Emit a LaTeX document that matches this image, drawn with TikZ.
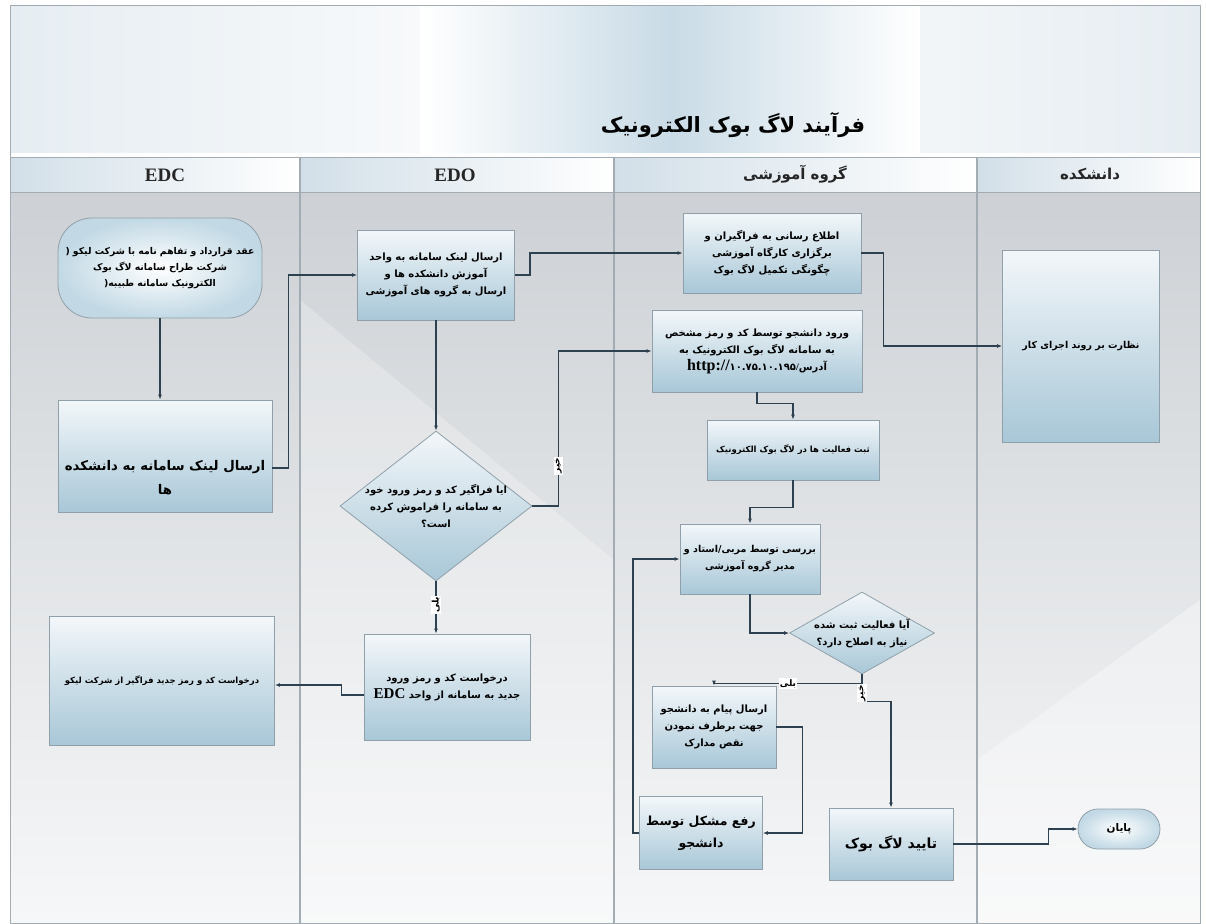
\documentclass[tikz,border=0pt]{standalone}
\usepackage{fontspec}
\setmainfont{Liberation Serif}
\newfontfamily\farsifont[Script=Arabic]{DejaVu Sans}
\newfontfamily\serifb{Liberation Serif}
\TeXXeTstate=1
\usetikzlibrary{shapes.geometric,arrows.meta,calc}
\definecolor{boxtop}{HTML}{F3F7FA}
\definecolor{boxbot}{HTML}{A8C7D7}
\definecolor{boxedge}{HTML}{8FA0AA}
\definecolor{connc}{HTML}{2E4150}
\definecolor{laneline}{HTML}{A4ACB3}
\definecolor{bandblue}{HTML}{C9DBE6}
\definecolor{pale}{HTML}{E6EDF2}
\definecolor{lanegray}{HTML}{CDD1D5}
\definecolor{lanelight}{HTML}{F6F7F8}
\definecolor{headblue}{HTML}{D2DFE8}
\definecolor{roundout}{HTML}{C2D9E5}
\newcommand{\fa}[1]{\beginR #1\endR}
\tikzset{
  box/.style={draw=boxedge, line width=0.8pt, top color=boxtop, bottom color=boxbot,
    align=center, inner sep=2pt, font=\farsifont\bfseries\fontsize{10}{17}\selectfont},
  roundbox/.style={draw=boxedge, line width=0.8pt, inner color=white, outer color=roundout,
    align=center, inner sep=2pt, font=\farsifont\bfseries\fontsize{10}{17}\selectfont},
  dbox/.style={draw=boxedge, line width=0.8pt, diamond, top color=boxtop, bottom color=boxbot, inner sep=0pt},
  txt/.style={align=center, inner sep=0pt, font=\farsifont\bfseries\fontsize{10}{17}\selectfont},
  flow/.style={draw=connc, line width=1.3pt, -{Latex[length=5pt,width=4pt]}},
  lbl/.style={font=\farsifont\bfseries\fontsize{9}{10}\selectfont, fill=white, inner sep=1.2pt},
  head/.style={font=\serifb\bfseries\fontsize{19}{20}\selectfont, text=black!85},
  fhead/.style={font=\farsifont\bfseries\fontsize{15}{17}\selectfont, text=black!85},
}
\begin{document}
\begin{tikzpicture}[x=1pt,y=-1pt]
\useasboundingbox (0,0) rectangle (1206,923);
\fill[white] (0,0) rectangle (1206,923);
% title area
\shade[left color=pale, right color=pale, middle color=white] (10,6) rectangle (1200,152);
\shade[left color=white, right color=white, middle color=bandblue] (420,6) rectangle (920,152);
% lane bodies
\shade[top color=lanegray, bottom color=lanelight] (10,192) rectangle (1200,923);
\fill[white, opacity=0.25] (300,300) -- (614,560) -- (614,923) -- (300,923) -- cycle;
\fill[white, opacity=0.35] (977,760) -- (1200,600) -- (1200,923) -- (977,923) -- cycle;
% header band
\shade[left color=headblue, right color=white] (10,157) rectangle (300,192);
\shade[left color=headblue, right color=white] (300,157) rectangle (614,192);
\shade[left color=headblue, right color=white] (614,157) rectangle (977,192);
\shade[left color=headblue, right color=white] (977,157) rectangle (1200,192);
\draw[laneline, line width=1pt] (10,6) rectangle (1200,923);
\draw[laneline, line width=1pt] (10,157) -- (1200,157);
\draw[laneline, line width=0.6pt] (10,192) -- (1200,192);
\foreach \xx in {300,614,977} \draw[laneline, line width=1.2pt] (\xx,157) -- (\xx,923);
% title and headers
\node[font=\farsifont\bfseries\fontsize{21}{24}\selectfont] (title) at (733,125) {\fa{فرآیند لاگ بوک الکترونیک}};
\node[head] (hEDC) at (165,175) {EDC};
\node[head] (hEDO) at (455,175) {EDO};
\node[fhead] (hgrp) at (795,174) {\fa{گروه آموزشی}};
\node[fhead] (hfac) at (1090,174) {\fa{دانشکده}};
% EDC lane
\node[roundbox, rounded corners=34pt, minimum width=204pt, minimum height=100pt, font=\farsifont\bfseries\fontsize{9.3}{16}\selectfont] (n1) at (160,268)
  {\fa{عقد قرارداد و تفاهم نامه با شرکت لیکو (}\\\fa{شرکت طراح سامانه لاگ بوک}\\\fa{الکترونیک سامانه طبیبه(}};
\node[box, minimum width=214pt, minimum height=112pt] (n2) at (165,456) {};
\node[txt, font=\farsifont\bfseries\fontsize{13.3}{24}\selectfont] (n2t) at (165,478)
  {\fa{ارسال لینک سامانه به دانشکده}\\\fa{ها}};
\node[box, minimum width=225pt, minimum height=129pt, font=\farsifont\bfseries\fontsize{8.5}{12}\selectfont] (n6) at (162,681)
  {\fa{درخواست کد و رمز جدید فراگیر از شرکت لیکو}};
% EDO lane
\node[box, minimum width=157pt, minimum height=90pt] (n3) at (436,275)
  {\fa{ارسال لینک سامانه به واحد}\\\fa{آموزش دانشکده ها و}\\\fa{ارسال به گروه های آموزشی}};
\node[dbox, minimum width=192pt, minimum height=150pt] (d1) at (436,506) {};
\node[txt] (d1t) at (d1.center)
  {\fa{ایا فراگیر کد و رمز ورود خود}\\\fa{به سامانه را فراموش کرده}\\\fa{است؟}};
\node[box, minimum width=166pt, minimum height=106pt] (n5) at (447,687)
  {\fa{درخواست کد و رمز ورود}\\\fa{جدید به سامانه از واحد \beginL{\serifb\bfseries\fontsize{15}{16}\selectfont EDC}\endL}};
% group lane
\node[box, minimum width=178pt, minimum height=80pt] (n7) at (772,253)
  {\fa{اطلاع رسانی به فراگیران و}\\\fa{برگزاری کارگاه آموزشی}\\\fa{چگونگی تکمیل لاگ بوک}};
\node[box, minimum width=210pt, minimum height=82pt] (n8) at (757,351)
  {\fa{ورود دانشجو توسط کد و رمز مشخص}\\\fa{به سامانه لاگ بوک الکترونیک به}\\{\serifb\bfseries\fontsize{16}{17}\selectfont http://}{۱۰.۷۵.۱۰.۱۹۵}{\serifb\bfseries /}\fa{آدرس}};
\node[box, minimum width=172pt, minimum height=60pt, font=\farsifont\bfseries\fontsize{8.5}{12}\selectfont] (n9) at (793,450)
  {\fa{ثبت فعالیت ها در لاگ بوک الکترونیک}};
\node[box, minimum width=140pt, minimum height=70pt, font=\farsifont\bfseries\fontsize{9.5}{17}\selectfont] (n10) at (750,559)
  {\fa{بررسی توسط مربی/استاد و}\\\fa{مدیر گروه آموزشی}};
\node[dbox, minimum width=145pt, minimum height=82pt] (d2) at (862,633) {};
\node[txt] (d2t) at (d2.center) {\fa{آیا فعالیت ثبت شده}\\\fa{نیاز به اصلاح دارد؟}};
\node[box, minimum width=124pt, minimum height=82pt] (n12) at (714,727)
  {\fa{ارسال پیام به دانشجو}\\\fa{جهت برطرف نمودن}\\\fa{نقص مدارک}};
\node[box, minimum width=123pt, minimum height=73pt, font=\farsifont\bfseries\fontsize{12.5}{22}\selectfont] (n13) at (701,833)
  {\fa{رفع مشکل توسط}\\\fa{دانشجو}};
\node[box, minimum width=124pt, minimum height=72pt, font=\farsifont\bfseries\fontsize{14}{20}\selectfont] (n14) at (891,844)
  {\fa{تایید لاگ بوک}};
% faculty lane
\node[box, minimum width=157pt, minimum height=192pt, font=\farsifont\bfseries\fontsize{9.5}{12}\selectfont] (n15) at (1081,346)
  {\fa{نظارت بر روند اجرای کار}};
\node[roundbox, rounded corners=20pt, minimum width=82pt, minimum height=40pt, font=\farsifont\bfseries\fontsize{10.5}{12}\selectfont] (nend) at (1119,829)
  {\fa{پایان}};
% connectors
\draw[flow] (n1.south) -- (n1.south |- n2.north);
\draw[flow] ([yshift=-12pt]n2.east) -- ++(16,0) |- (n3.west);
\draw[flow] (n3.east) -- ++(15,0) |- (n7.west);
\draw[flow] (n7.east) -- ++(22,0) |- (n15.west);
\draw[flow] (n3.south) -- (d1.north);
\draw[flow] (d1.east) -- ++(26,0) |- node[lbl, pos=0.13, rotate=90] {\fa{خیر}} (n8.west);
\draw[flow] (d1.south) -- node[lbl, pos=0.45, rotate=90] {\fa{بلی}} (d1.south |- n5.north);
\draw[flow] ([yshift=-8pt]n5.west) -- ++(-22,0) |- ([yshift=-4pt]n6.east);
\draw[flow] (n8.south) -- ++(0,11) -| (n9.north);
\draw[flow] (n9.south) -- ++(0,27) -| (n10.north);
\draw[flow] (n10.south) |- (d2.west);
\draw[flow] (d2.south) -- ++(0,9) -| node[lbl, pos=0.25] {\fa{بلی}} (n12.north);
\draw[flow] (d2.south) -- ++(0,27) node[lbl, pos=0.7, rotate=90] {\fa{خیر}} -| (n14.north);
\draw[flow] (n12.east) -- ++(26,0) |- (n13.east);
\draw[flow] (n13.west) -- ++(-6,0) |- (n10.west);
\draw[flow] (n14.east) -- ++(95,0) |- (nend.west);
\end{tikzpicture}
\end{document}
